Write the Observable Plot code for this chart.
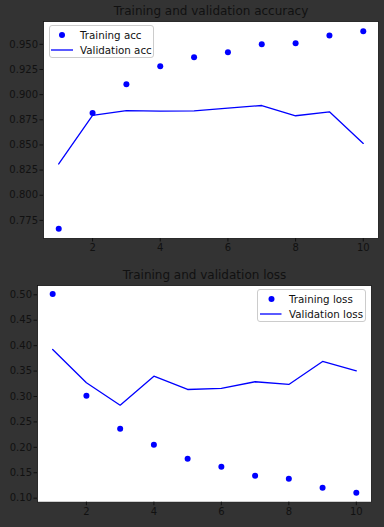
<!DOCTYPE html>
<html>
<head>
<meta charset="utf-8">
<script src="https://cdn.jsdelivr.net/npm/d3@7"></script>
<script src="https://cdn.jsdelivr.net/npm/@observablehq/plot@0.6"></script>
<style>
  html, body { margin: 0; padding: 0; background: #333333; }
  #wrap { position: relative; width: 384px; height: 527px; background: #333333; overflow: hidden; font-family: "DejaVu Sans", sans-serif; }
  .plot { position: absolute; left: 0; }
  .legend { position: absolute; background: #fff; border: 1px solid #cccccc; border-radius: 3px; box-sizing: border-box; font-size: 10.3px; color: #111; }
  .row { position: absolute; left: 0; height: 14px; line-height: 14px; white-space: nowrap; }
  .row svg { position: absolute; left: 0; top: 0; }
  .row span { position: absolute; top: 0; }
</style>
</head>
<body>
<div id="wrap"></div>
<script>
const epochs = [1, 2, 3, 4, 5, 6, 7, 8, 9, 10];
const trainAcc = [0.7668, 0.8817, 0.9104, 0.9282, 0.9371, 0.9421, 0.9500, 0.9510, 0.9589, 0.9629];
const valAcc = [0.8311, 0.8793, 0.8842, 0.8836, 0.8839, 0.8866, 0.8892, 0.8790, 0.8829, 0.8515];
const trainLoss = [0.5016, 0.3014, 0.2365, 0.2051, 0.1775, 0.1618, 0.1441, 0.1382, 0.1205, 0.1107];
const valLoss = [0.3925, 0.3270, 0.2829, 0.3400, 0.3138, 0.3158, 0.3290, 0.3237, 0.3689, 0.3506];
const xTicks = [2, 4, 6, 8, 10];
const accTicks = [0.775, 0.800, 0.825, 0.850, 0.875, 0.900, 0.925, 0.950];
const lossTicks = [0.10, 0.15, 0.20, 0.25, 0.30, 0.35, 0.40, 0.45, 0.50];
const titles = ["Training and validation accuracy", "Training and validation loss"];
const accLegend = ["Training acc", "Validation acc"];
const lossLegend = ["Training loss", "Validation loss"];

const wrap = document.getElementById("wrap");

function makePlot(cfg) {
  const rows = epochs.map((e, i) => ({epoch: e, train: cfg.train[i], val: cfg.val[i]}));
  const p = Plot.plot({
    width: 384,
    height: cfg.height,
    marginLeft: cfg.ml, marginRight: cfg.mr, marginTop: cfg.mt, marginBottom: cfg.mb,
    style: {background: "#333333", color: "#111", fontFamily: "DejaVu Sans, sans-serif", fontSize: "10px", overflow: "visible"},
    x: {domain: [0.55, 10.45]},
    y: {domain: cfg.yDomain},
    marks: [
      Plot.frame({fill: "white", stroke: "#111", strokeWidth: 0.8}),
      Plot.line(rows, {x: "epoch", y: "val", stroke: "#0000ff", strokeWidth: 1.3}),
      Plot.dot(rows, {x: "epoch", y: "train", r: 3, fill: "#0000ff", stroke: "none"}),
      Plot.axisX({ticks: xTicks, tickSize: 3.5, tickPadding: 2, fontSize: 10, label: null, tickFormat: d3.format("d")}),
      Plot.axisY({ticks: cfg.yTicks, tickSize: 3.5, tickPadding: 2, fontSize: 10, label: null, tickFormat: d3.format(cfg.fmt)}),
      Plot.text([cfg.title], {frameAnchor: "top", lineAnchor: "middle", text: d => d, dy: cfg.titleDy, fontSize: 12, fill: "#111"})
    ]
  });
  p.classList.add("plot");
  p.style.top = cfg.top + "px";
  wrap.appendChild(p);
}

function makeLegend(labels, box) {
  const lg = document.createElement("div");
  lg.className = "legend";
  lg.style.left = box.left + "px";
  lg.style.top = box.top + "px";
  lg.style.width = box.w + "px";
  lg.style.height = box.h + "px";
  labels.forEach((lab, i) => {
    const r = document.createElement("div");
    r.className = "row";
    r.style.top = (box.rowY[i] - 7) + "px";
    r.style.width = (box.w - 2) + "px";
    const ns = "http://www.w3.org/2000/svg";
    const s = document.createElementNS(ns, "svg");
    s.setAttribute("width", 30); s.setAttribute("height", 14);
    if (i === 0) {
      const c = document.createElementNS(ns, "circle");
      c.setAttribute("cx", box.mx); c.setAttribute("cy", 7); c.setAttribute("r", 3);
      c.setAttribute("fill", "#0000ff");
      s.appendChild(c);
    } else {
      const l = document.createElementNS(ns, "line");
      l.setAttribute("x1", box.lx0); l.setAttribute("x2", box.lx1);
      l.setAttribute("y1", 7); l.setAttribute("y2", 7);
      l.setAttribute("stroke", "#0000ff"); l.setAttribute("stroke-width", 1.3);
      s.appendChild(l);
    }
    r.appendChild(s);
    const t = document.createElement("span");
    t.textContent = lab;
    t.style.left = box.tx + "px";
    r.appendChild(t);
    lg.appendChild(r);
  });
  wrap.appendChild(lg);
}

makePlot({train: trainAcc, val: valAcc, height: 260, top: 0, ml: 43, mr: 6, mt: 21, mb: 22,
  yDomain: [0.757, 0.9727], yTicks: accTicks, fmt: ".3f", title: titles[0], titleDy: -10.5});
makePlot({train: trainLoss, val: valLoss, height: 267, top: 260, ml: 37, mr: 13, mt: 25, mb: 25.3,
  yDomain: [0.0921, 0.5183], yTicks: lossTicks, fmt: ".2f", title: titles[1], titleDy: -10});

makeLegend(accLegend, {left: 49, top: 25, w: 105, h: 33, rowY: [9, 24], mx: 12, lx0: 1, lx1: 23, tx: 30});
makeLegend(lossLegend, {left: 257, top: 289, w: 109, h: 33, rowY: [9, 24], mx: 13.5, lx0: 2, lx1: 23.5, tx: 31});
</script>
</body>
</html>
